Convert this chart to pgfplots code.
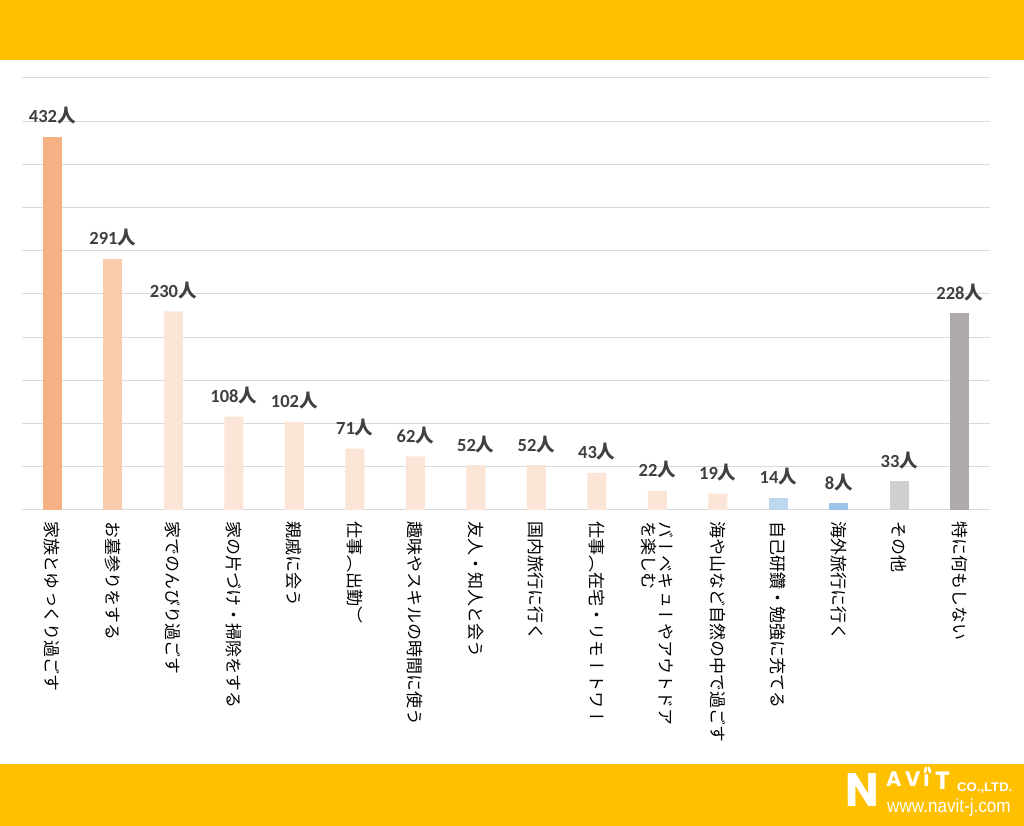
\documentclass[border=0pt]{standalone}
\usepackage{pgfplots}
\pgfplotsset{compat=1.18}
\usepackage{fontspec}
\setmainfont{Carlito}
\newfontfamily\cjk{Noto Sans CJK JP}
\newfontfamily\cjkv{Noto Sans CJK JP}[Vertical=RotatedGlyphs]
\newfontfamily\logofont{Poppins}
\newfontfamily\urlfont{Liberation Sans}
\definecolor{bandc}{HTML}{FFC000}
\definecolor{gridc}{HTML}{D9D9D9}
\definecolor{labc}{HTML}{404040}
\definecolor{cA}{HTML}{F4B183}
\definecolor{cB}{HTML}{F8CBAD}
\definecolor{cC}{HTML}{FBE5D6}
\definecolor{cD}{HTML}{BDD7EE}
\definecolor{cE}{HTML}{9DC3E6}
\definecolor{cF}{HTML}{D0CECE}
\definecolor{cG}{HTML}{AEAAAA}
\begin{document}
\begin{tikzpicture}[x=1pt,y=1pt]
\fill[white] (0,0) rectangle (1024,826);
\fill[bandc] (0,766) rectangle (1024,826);
\fill[bandc] (0,0) rectangle (1024,62);
\begin{axis}[
  at={(22pt,316pt)}, anchor=south west,
  scale only axis, width=968pt, height=432pt,
  xmin=-0.5, xmax=15.5, ymin=0, ymax=500,
  ybar, bar width=19pt, bar shift=0pt,
  axis x line*=bottom, axis y line*=left,
  x axis line style={draw=gridc, line width=1pt},
  y axis line style={draw=none},
  ytick={50,100,...,500}, yticklabels={},
  ymajorgrids, major grid style={draw=gridc, line width=1pt},
  major tick length=0pt,
  xtick={0,...,15},
  xticklabels={
    家族とゆっくり過ごす,
    お墓参りをする,
    家でのんびり過ごす,
    家の片づけ・掃除をする,
    親戚に会う,
    仕事（出勤）,
    趣味やスキルの時間に使う,
    友人・知人と会う,
    国内旅行に行く,
    仕事（在宅・リモートワー,
    {バーベキューやアウトドア\\を楽しむ},
    海や山など自然の中で過ごす,
    自己研鑽・勉強に充てる,
    海外旅行に行く,
    その他,
    特に何もしない},
  xticklabel style={rotate=-90, anchor=west, inner sep=0pt,
    font=\cjkv\fontsize{17}{17.2}\selectfont, align=left, text=black},
  xticklabel shift=11pt,
  clip=false,
  /pgf/number format/assume math mode=true,
  nodes near coords={\pgfmathprintnumber{\pgfplotspointmeta}{\cjk\bfseries 人}},
  every node near coord/.append style={font=\bfseries\fontsize{18.5}{19}\selectfont,
    text=labc, anchor=base, yshift=14pt, inner sep=0pt},
]
\addplot[fill=cA, draw=none] coordinates {(0,432)};
\addplot[fill=cB, draw=none] coordinates {(1,291)};
\addplot[fill=cC, draw=none] coordinates {(2,230)(3,108)(4,102)(5,71)(6,62)(7,52)(8,52)(9,43)(10,22)(11,19)};
\addplot[fill=cD, draw=none] coordinates {(12,14)};
\addplot[fill=cE, draw=none] coordinates {(13,8)};
\addplot[fill=cF, draw=none] coordinates {(14,33)};
\addplot[fill=cG, draw=none] coordinates {(15,228)};
\end{axis}
% logo
\node[anchor=base west, inner sep=0, text=white, font=\logofont\bfseries\fontsize{47}{47}\selectfont] at (845,19) {\scalebox{0.95}[1]{N}};
\node[anchor=base west, inner sep=0, text=white, font=\logofont\bfseries\fontsize{21}{21}\selectfont] at (886,39) {A};
\node[anchor=base west, inner sep=0, text=white, font=\logofont\bfseries\fontsize{21}{21}\selectfont] at (905,39) {V};
\node[anchor=base west, inner sep=0, text=white, font=\logofont\bfseries\fontsize{21}{21}\selectfont] at (923,39) {ı};
\fill[white, rotate around={15:(929.5,56)}] (929.5,56) ellipse (1.5 and 3.6);
\fill[white, rotate around={-15:(925.5,56)}] (925.5,56) ellipse (1.5 and 3.6);
\node[anchor=base west, inner sep=0, text=white, font=\logofont\bfseries\fontsize{25}{25}\selectfont] at (935,36) {T};
\node[anchor=base west, inner sep=0, text=white, font=\urlfont\bfseries\fontsize{12.5}{12.5}\selectfont] at (957,34) {\scalebox{1.05}[1]{CO.,LTD.}};
\node[anchor=base west, inner sep=0, text=white, font=\urlfont\fontsize{19}{19}\selectfont] at (887,13) {\scalebox{0.9}[1]{www.navit-j.com}};
\end{tikzpicture}
\end{document}
